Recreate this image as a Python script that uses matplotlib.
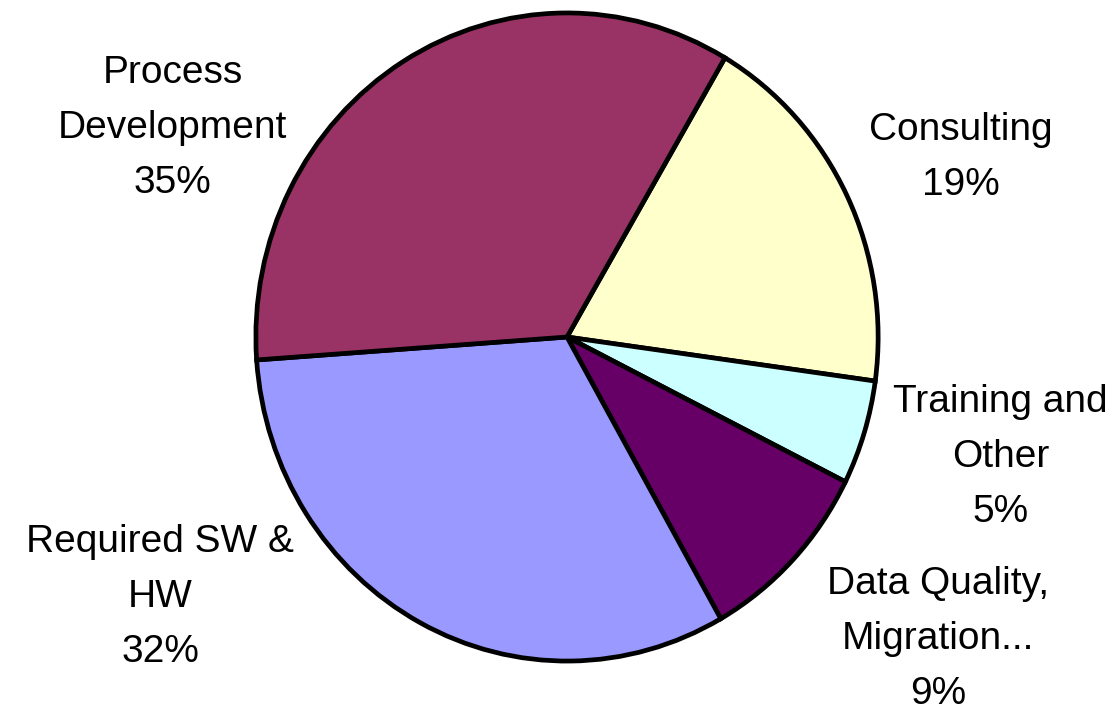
import matplotlib
matplotlib.use("Agg")
import matplotlib.pyplot as plt

categories = ["Consulting", "Training and\nOther", "Data Quality,\nMigration...", "Required SW &\nHW", "Process\nDevelopment"]
values = [18.7, 5.2, 9.4, 32.1, 34.6]
colors = ["#FFFFCC", "#CCFFFF", "#660066", "#9999FF", "#993366"]
label_xy = [(1.265, 0.555), (1.393, -0.371), (1.192, -0.933), (-1.307, -0.801), (-1.268, 0.644)]

plt.rcParams['font.family'] = ['Liberation Sans', 'DejaVu Sans']

W, H = 1117, 716
fig = plt.figure(figsize=(W / 100, H / 100), dpi=100)
left, right, top, bottom = 254, 880, 11, 663
ax = fig.add_axes([left / W, (H - bottom) / H, (right - left) / W, (bottom - top) / H])
ax.pie(values, colors=colors, startangle=59.5, counterclock=False, radius=1,
       wedgeprops=dict(edgecolor="black", linewidth=3.4))
ax.set_aspect('auto')
ax.set_xlim(-1.006, 1.006)
ax.set_ylim(-1.006, 1.006)
ax.axis('off')

total = sum(values)
for cat, v, (x, y) in zip(categories, values, label_xy):
    ax.text(x, y, f"{cat}\n{round(v / total * 100)}%", ha='center', va='center',
            fontsize=28, linespacing=1.68, clip_on=False)

fig.savefig("out.png", dpi=100)
